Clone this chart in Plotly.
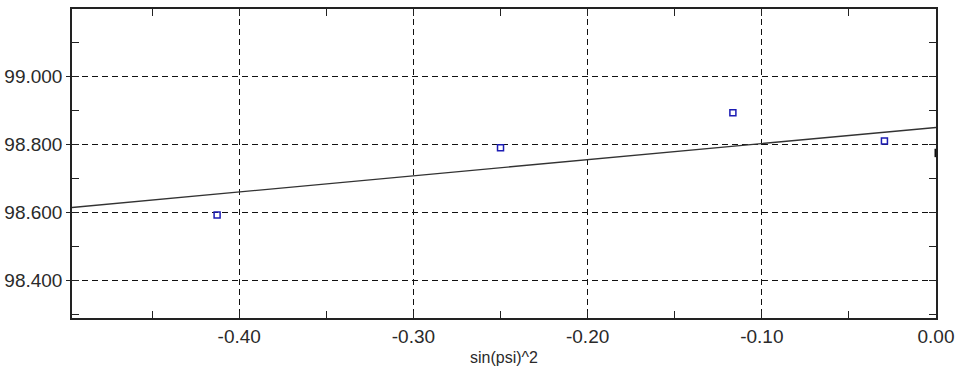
import plotly.graph_objects as go

# Data
pt_x = [-0.4127, -0.2500, -0.1166, -0.0296]
pt_y = [98.593, 98.790, 98.893, 98.810]

fit_intercept = 98.850
fit_slope = 0.474
line_x = [-0.496, 0.0]
line_y = [fit_intercept + fit_slope * v for v in line_x]

edge_x = [0.0]
edge_y = [98.775]

x_range = [-0.496, 0.0]
y_range = [98.29, 99.198]
x_ticks = [-0.4, -0.3, -0.2, -0.1, 0.0]
x_labels = ["-0.40", "-0.30", "-0.20", "-0.10", "0.00"]
y_ticks = [98.4, 98.6, 98.8, 99.0]
y_labels = ["98.400", "98.600", "98.800", "99.000"]

font = dict(family="Liberation Sans, Arial, sans-serif", size=19, color="#2a2a2a")

fig = go.Figure()
fig.add_trace(go.Scatter(x=line_x, y=line_y, mode="lines",
                         line=dict(color="#333333", width=1.4),
                         showlegend=False, hoverinfo="skip"))
fig.add_trace(go.Scatter(x=pt_x, y=pt_y, mode="markers",
                         marker=dict(symbol="square-open", size=6,
                                     color="#1c1cb4", line=dict(width=1.5, color="#1c1cb4")),
                         showlegend=False))
fig.add_trace(go.Scatter(x=edge_x, y=edge_y, mode="markers", cliponaxis=False,
                         marker=dict(symbol="line-ns", size=6,
                                     line=dict(width=3, color="#111111")),
                         showlegend=False, hoverinfo="skip"))

grid = dict(showgrid=True, gridcolor="#111111", gridwidth=1.3, griddash="6px,4px")

fig.update_layout(
    width=961, height=374,
    margin=dict(l=72, r=23, t=7, b=56),
    paper_bgcolor="white", plot_bgcolor="white",
    font=font,
    xaxis=dict(range=x_range, tickvals=x_ticks, ticktext=x_labels,
               automargin=True,
               ticks="inside", ticklen=4, tickcolor="#222222",
               showline=True, linecolor="#222222", linewidth=1.5, mirror=True,
               zeroline=False,
               minor=dict(dtick=0.05, tick0=0, ticks="inside", ticklen=7,
                          tickcolor="#222222", showgrid=False),
               title=dict(text="sin(psi)^2", font=dict(size=16), standoff=6),
               **grid),
    yaxis=dict(range=y_range, tickvals=y_ticks, ticktext=y_labels,
               automargin=False,
               ticks="outside", ticklen=4, tickcolor="#222222",
               showline=True, linecolor="#222222", linewidth=1.5, mirror=True,
               zeroline=False,
               minor=dict(dtick=0.1, tick0=98.3, ticks="inside", ticklen=7,
                          tickcolor="#222222", showgrid=False),
               **grid),
    xaxis2=dict(overlaying="x", side="top", range=x_range, showgrid=False,
                showticklabels=False, zeroline=False, ticks="",
                tickvals=x_ticks, automargin=False,
                minor=dict(dtick=0.05, tick0=0, ticks="inside", ticklen=7,
                           tickcolor="#222222", showgrid=False)),
    yaxis2=dict(overlaying="y", side="right", range=y_range, showgrid=False,
                showticklabels=False, zeroline=False, ticks="",
                tickvals=y_ticks, automargin=False,
                minor=dict(dtick=0.1, tick0=98.3, ticks="inside", ticklen=7,
                           tickcolor="#222222", showgrid=False)),
)
# invisible trace to activate secondary axes
fig.add_trace(go.Scatter(x=[None], y=[None], xaxis="x2", yaxis="y2",
                         showlegend=False, hoverinfo="skip"))

fig.write_html("out.html")
